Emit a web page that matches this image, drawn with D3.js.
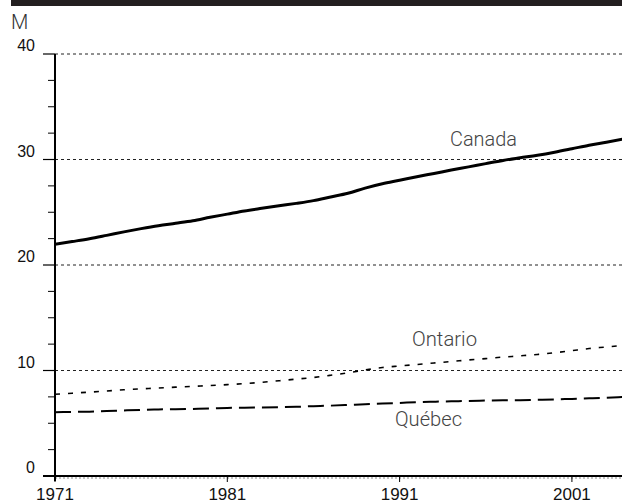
<!DOCTYPE html>
<html><head><meta charset="utf-8">
<script src="https://cdn.jsdelivr.net/npm/d3@7"></script>
<style>
html,body{margin:0;padding:0;background:#fff;}
svg{display:block;}
</style></head>
<body>
<svg id="chart" width="622" height="503"></svg>
<script>
const years = [1971,1972,1973,1974,1975,1976,1977,1978,1979,1980,1981,1982,1983,1984,1985,1986,1987,1988,1989,1990,1991,1992,1993,1994,1995,1996,1997,1998,1999,2000,2001,2002,2003,2004];
const canada = [21.96,22.22,22.49,22.81,23.14,23.45,23.73,23.96,24.20,24.52,24.82,25.12,25.37,25.61,25.84,26.10,26.45,26.80,27.29,27.70,28.03,28.37,28.68,29.00,29.30,29.61,29.91,30.16,30.40,30.69,31.02,31.36,31.64,31.94];
const ontario = [7.75,7.85,7.95,8.06,8.17,8.26,8.34,8.42,8.50,8.57,8.66,8.76,8.88,9.03,9.18,9.34,9.55,9.78,10.05,10.28,10.43,10.57,10.71,10.85,11.00,11.13,11.27,11.39,11.52,11.68,11.88,12.08,12.23,12.39];
const quebec = [6.04,6.07,6.10,6.15,6.21,6.27,6.31,6.33,6.36,6.40,6.45,6.48,6.50,6.52,6.56,6.62,6.67,6.73,6.80,6.87,6.93,6.99,7.04,7.08,7.12,7.15,7.17,7.19,7.22,7.26,7.31,7.36,7.42,7.49];
const yTicks = [0,10,20,30,40];
const yMinor = [2.5,5,7.5,12.5,15,17.5,22.5,25,27.5,32.5,35,37.5];
const xTicks = [1971,1981,1991,2001];
const unitLabel = "M";
const seriesNames = ["Canada","Ontario","Québec"];

const svg = d3.select("#chart");
const x = d3.scaleLinear().domain([1971, 2004]).range([55, 623.6]);
const y = d3.scaleLinear().domain([0, 40]).range([476, 54]);

// top bar
svg.append("rect").attr("x",11).attr("y",0).attr("width",611).attr("height",6).attr("fill","#231f20");

// unit label
svg.append("text").attr("x",11).attr("y",29).text(unitLabel)
  .attr("font-family","Roboto, sans-serif").attr("font-weight",300)
  .attr("font-size",20).attr("fill","#333");

// gridlines
svg.append("g").selectAll("line").data(yTicks.filter(d=>d>0)).join("line")
  .attr("x1",55).attr("x2",622).attr("y1",d=>y(d)).attr("y2",d=>y(d))
  .attr("stroke","#222").attr("stroke-width",1).attr("stroke-dasharray","3,3");
svg.append("line").attr("x1",55).attr("x2",622).attr("y1",y(0)+2).attr("y2",y(0)+2)
  .attr("stroke","#888").attr("stroke-width",1).attr("stroke-dasharray","2,2");

// y axis
const yAxis = svg.append("g");
yAxis.append("line").attr("x1",55).attr("x2",55).attr("y1",y(40)).attr("y2",y(0)+5)
  .attr("stroke","#000").attr("stroke-width",2);
yAxis.selectAll(".maj").data(yTicks).join("line").attr("class","maj")
  .attr("x1",43).attr("x2",55).attr("y1",d=>y(d)).attr("y2",d=>y(d))
  .attr("stroke","#000").attr("stroke-width",1.2);
yAxis.selectAll(".min").data(yMinor).join("line").attr("class","min")
  .attr("x1",48).attr("x2",55).attr("y1",d=>y(d)).attr("y2",d=>y(d))
  .attr("stroke","#000").attr("stroke-width",1);
yAxis.selectAll("text").data(yTicks).join("text")
  .attr("x",35).attr("y",d=>y(d)-3).attr("text-anchor","end")
  .attr("font-family","Liberation Sans, Arial, sans-serif").attr("font-size",16).attr("fill","#111")
  .text(d=>d);

// x axis
const xAxis = svg.append("g");
xAxis.append("line").attr("x1",43).attr("x2",622).attr("y1",y(0)).attr("y2",y(0))
  .attr("stroke","#000").attr("stroke-width",2);
xAxis.selectAll("line.t").data(xTicks).join("line").attr("class","t")
  .attr("x1",d=>x(d)).attr("x2",d=>x(d)).attr("y1",y(0)).attr("y2",y(0)+6)
  .attr("stroke","#000").attr("stroke-width",1);
xAxis.selectAll("text").data(xTicks).join("text")
  .attr("x",d=>x(d)).attr("y",500).attr("text-anchor","middle")
  .attr("font-family","Liberation Sans, Arial, sans-serif").attr("font-size",17).attr("fill","#111")
  .text(d=>d);

const line = d3.line().x(d=>x(d[0])).y(d=>y(d[1])).curve(d3.curveMonotoneX);
svg.append("clipPath").attr("id","c").append("rect").attr("x",55).attr("y",0).attr("width",567).attr("height",503);
const plot = svg.append("g").attr("clip-path","url(#c)");
plot.append("path").datum(years.map((yr,i)=>[yr,quebec[i]])).attr("d",line)
  .attr("fill","none").attr("stroke","#000").attr("stroke-width",2).attr("stroke-dasharray","16,7");
plot.append("path").datum(years.map((yr,i)=>[yr,ontario[i]])).attr("d",line)
  .attr("fill","none").attr("stroke","#000").attr("stroke-width",1.6).attr("stroke-dasharray","5,8");
plot.append("path").datum(years.map((yr,i)=>[yr,canada[i]])).attr("d",line)
  .attr("fill","none").attr("stroke","#000").attr("stroke-width",3);

// series labels
const lab = svg.append("g").attr("font-family","Roboto, sans-serif").attr("font-weight",300)
  .attr("font-size",20).attr("fill","#444");
lab.append("text").attr("x",450).attr("y",146).attr("textLength",67).attr("lengthAdjust","spacingAndGlyphs").text(seriesNames[0]);
lab.append("text").attr("x",412).attr("y",346).attr("textLength",65).attr("lengthAdjust","spacingAndGlyphs").text(seriesNames[1]);
lab.append("text").attr("x",395).attr("y",426).attr("textLength",67).attr("lengthAdjust","spacingAndGlyphs").text(seriesNames[2]);
</script>
</body></html>
